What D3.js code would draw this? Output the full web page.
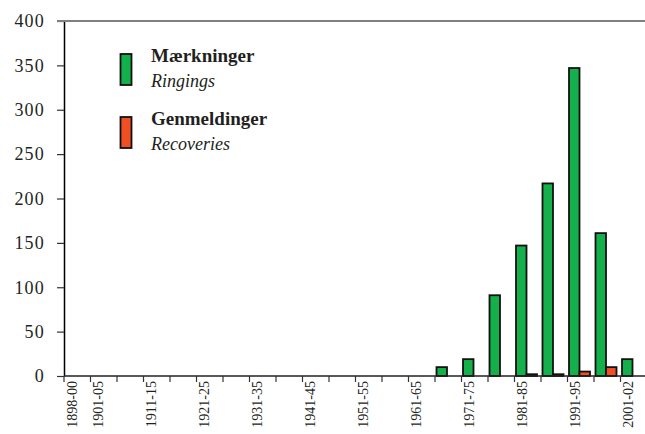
<!DOCTYPE html>
<html>
<head>
<meta charset="utf-8">
<script src="https://cdn.jsdelivr.net/npm/d3@7"></script>
<style>
  body { margin: 0; background: #fff; }
  text { font-family: "Liberation Serif", "Times New Roman", serif; fill: #231f20; }
</style>
</head>
<body>
<div id="wrapper"></div>
<script>

// Data
const categories = [
  "1898-00", "1901-05", "1906-10", "1911-15", "1916-20", "1921-25",
  "1926-30", "1931-35", "1936-40", "1941-45", "1946-50", "1951-55",
  "1956-60", "1961-65", "1966-70", "1971-75", "1976-80", "1981-85",
  "1986-90", "1991-95", "1996-00", "2001-02"
]
const ringings   = [0, 0, 0, 0, 0, 0, 0, 0, 0, 0, 0, 0, 0, 0, 10, 19, 91, 147, 217, 347, 161, 19]
const recoveries = [0, 0, 0, 0, 0, 0, 0, 0, 0, 0, 0, 0, 0, 0, 0, 0, 0, 2, 2, 5, 10, 0]
const tickLabels = [
  "1898-00", "1901-05", "1911-15", "1921-25", "1931-35", "1941-45",
  "1951-55", "1961-65", "1971-75", "1981-85", "1991-95", "2001-02"
]
const yTicks = [0, 50, 100, 150, 200, 250, 300, 350, 400]
const seriesNames = ["ringings", "recoveries"]
const legendItems = [
  {key: "ringings", dk: "Mærkninger", en: "Ringings"},
  {key: "recoveries", dk: "Genmeldinger", en: "Recoveries"}
]
const colors = {ringings: "#13b04b", recoveries: "#f04f23"}

// 1. Dimensions
const dimensions = {
  width: 645,
  height: 434,
  margin: {top: 21, right: 0, bottom: 58, left: 64},
}
dimensions.boundedHeight = dimensions.height - dimensions.margin.top - dimensions.margin.bottom

// 2. Canvas
const svg = d3.select("#wrapper")
  .append("svg")
    .attr("width", dimensions.width)
    .attr("height", dimensions.height)

const bounds = svg.append("g")
    .attr("transform", `translate(${dimensions.margin.left}, ${dimensions.margin.top})`)

// 3. Scales
const step = 26.5
const xScale = d3.scaleBand()
  .domain(categories)
  .range([0, categories.length * step])
  .padding(0)

const xSeries = d3.scaleBand()
  .domain(seriesNames)
  .range([1.5, 22.5])
  .padding(0)

const yScale = d3.scaleLinear()
  .domain([0, 400])
  .range([dimensions.boundedHeight, 0])

// 4. Bars
const rows = categories.map((c, i) => ({
  cat: c,
  values: [
    {key: "ringings", value: ringings[i]},
    {key: "recoveries", value: recoveries[i]},
  ]
}))

const groups = bounds.selectAll(".cat")
  .data(rows)
  .enter().append("g")
    .attr("class", "cat")
    .attr("transform", d => `translate(${xScale(d.cat)}, 0)`)

groups.selectAll("rect")
  .data(d => d.values.filter(v => v.value > 0))
  .enter().append("rect")
    .attr("x", d => xSeries(d.key))
    .attr("width", xSeries.bandwidth())
    .attr("y", d => yScale(d.value))
    .attr("height", d => yScale(0) - yScale(d.value))
    .attr("fill", d => colors[d.key])
    .attr("stroke", "#111")
    .attr("stroke-width", 1.8)

// 5. Axes
const yAxis = bounds.append("g")
  .call(d3.axisLeft(yScale)
    .tickValues(yTicks)
    .tickSize(7)
    .tickSizeOuter(0)
    .tickPadding(12))
yAxis.select(".domain").attr("stroke", "#000").attr("stroke-width", 1.5)
yAxis.selectAll(".tick line").attr("stroke", "#333").attr("stroke-width", 1.2)
yAxis.selectAll(".tick text")
  .style("font-size", "18px")
  .style("letter-spacing", "1.2px")
  .attr("fill", "#231f20")

const xAxis = bounds.append("g")
  .attr("transform", `translate(0, ${dimensions.boundedHeight})`)
  .call(d3.axisBottom(xScale).tickSize(6).tickSizeOuter(0))
xAxis.select(".domain")
  .attr("d", `M0,0H${dimensions.width - dimensions.margin.left}`)
  .attr("stroke", "#222")
  .attr("stroke-width", 1.5)
xAxis.selectAll(".tick")
  .attr("transform", d => `translate(${xScale(d)}, 0)`)
xAxis.selectAll(".tick line").attr("stroke", "#333").attr("stroke-width", 1.2)
xAxis.selectAll(".tick text")
  .text(d => tickLabels.includes(d) ? d : "")
  .attr("transform", "rotate(-90)")
  .attr("x", -5)
  .attr("y", 12.5)
  .attr("dy", 0)
  .attr("text-anchor", "end")
  .style("font-size", "14px")
  .attr("fill", "#231f20")

// top frame line
bounds.append("line")
  .attr("x1", -7)
  .attr("x2", dimensions.width - dimensions.margin.left)
  .attr("y1", yScale(400))
  .attr("y2", yScale(400))
  .attr("stroke", "#808080")
  .attr("stroke-width", 2)

// 6. Legend
const legend = svg.append("g")
  .attr("transform", "translate(120, 0)")

const legendRows = legend.selectAll("g")
  .data(legendItems)
  .enter().append("g")
    .attr("transform", (d, i) => `translate(0, ${i * 63})`)

legendRows.append("rect")
  .attr("x", 0.5)
  .attr("y", 54)
  .attr("width", 11)
  .attr("height", 31)
  .attr("fill", d => colors[d.key])
  .attr("stroke", "#111")
  .attr("stroke-width", 1.8)

legendRows.append("text")
  .attr("x", 31)
  .attr("y", 62)
  .style("font-size", "19px")
  .style("font-weight", "bold")
  .text(d => d.dk)

legendRows.append("text")
  .attr("x", 31)
  .attr("y", 87)
  .style("font-size", "18px")
  .style("font-style", "italic")
  .text(d => d.en)

</script>
</body>
</html>
